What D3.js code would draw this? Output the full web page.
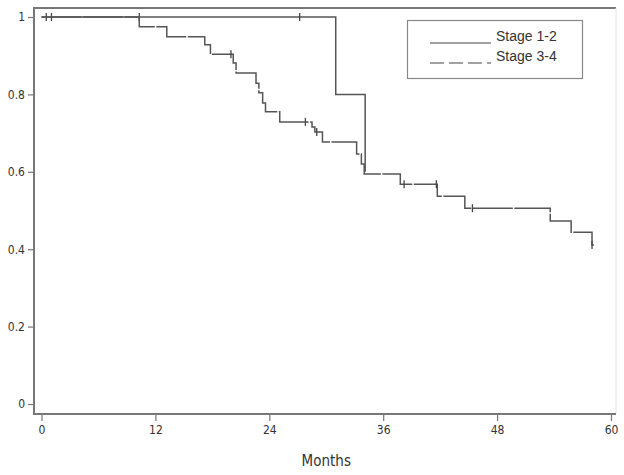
<!DOCTYPE html>
<meta charset="utf-8">
<html>
<head>
    <script src="https://d3js.org/d3.v7.min.js"></script>
    <style>
        body { margin: 0; background: #fff; }
        text { font-family: "Liberation Sans Narrow", "DejaVu Sans Condensed", "Liberation Sans", Arial, sans-serif; fill: #333; }
    </style>
</head>
<body>
    <script>
        // Kaplan-Meier steps: [month, survival after event]
        var stage12 = [[0, 1], [31.0, 0.8], [34.1, 0.6]];
        var stage12End = 34.1;
        var stage12Censor = [0.5, 1.05, 10.3, 27.2];

        var stage34 = [
            [0, 1], [10.3, 0.975], [13.2, 0.949], [17.2, 0.928], [17.8, 0.904],
            [20.2, 0.881], [20.5, 0.855], [22.6, 0.829], [22.9, 0.804], [23.3, 0.778],
            [23.6, 0.755], [25.1, 0.729], [28.5, 0.716], [28.8, 0.703], [29.6, 0.677],
            [33.2, 0.646], [33.7, 0.62], [34.0, 0.594], [37.8, 0.568], [41.7, 0.537],
            [44.6, 0.506], [53.6, 0.473], [55.8, 0.444], [58.0, 0.411]
        ];
        var stage34End = 58.2;
        var stage34Censor = [19.96, 27.8, 29.0, 38.2, 41.6, 45.4, 58.0];

        var xTicks = [0, 12, 24, 36, 48, 60];
        var yTicks = [0, 0.2, 0.4, 0.6, 0.8, 1];
        var legendNames = ["Stage 1-2", "Stage 3-4"];

        const width = 624, height = 475;
        const svg = d3.select("body").append("svg")
            .attr("width", width).attr("height", height);

        const x = d3.scaleLinear().domain([0, 60]).range([41.5, 611]);
        const y = d3.scaleLinear().domain([0, 1]).range([404, 17]);

        const frameLeft = 34, frameRight = 616, frameTop = 8, frameBottom = 414;

        // frame
        svg.append("line").attr("x1", frameLeft).attr("x2", frameRight)
            .attr("y1", frameTop).attr("y2", frameTop)
            .attr("stroke", "#777").attr("stroke-width", 2);
        svg.append("line").attr("x1", frameRight).attr("x2", frameRight)
            .attr("y1", frameTop).attr("y2", frameBottom)
            .attr("stroke", "#e4e4e4").attr("stroke-width", 1);
        svg.append("line").attr("x1", frameLeft).attr("x2", frameLeft)
            .attr("y1", frameTop - 1).attr("y2", frameBottom + 1)
            .attr("stroke", "#777").attr("stroke-width", 2);
        svg.append("line").attr("x1", frameLeft - 1).attr("x2", frameRight)
            .attr("y1", frameBottom).attr("y2", frameBottom)
            .attr("stroke", "#777").attr("stroke-width", 2);

        // axes
        const xAxis = svg.append("g")
            .attr("transform", `translate(0,${frameBottom})`)
            .call(d3.axisBottom(x).tickValues(xTicks).tickSize(7).tickPadding(4).tickFormat(d3.format("d")));
        xAxis.select(".domain").remove();

        const yAxis = svg.append("g")
            .attr("transform", `translate(${frameLeft},0)`)
            .call(d3.axisLeft(y).tickValues(yTicks).tickSize(6).tickPadding(3).tickFormat(d => d === 0 || d === 1 ? d : d.toFixed(1)));
        yAxis.select(".domain").remove();

        svg.selectAll(".tick line").attr("stroke", "#777").attr("stroke-width", 1.2);
        svg.selectAll(".tick text")
            .style("font-family", "'Liberation Sans Narrow', 'DejaVu Sans Condensed', sans-serif")
            .style("font-size", "12px").attr("fill", "#333");

        svg.append("text")
            .attr("x", (x(0) + x(60)) / 2).attr("y", 466)
            .attr("text-anchor", "middle")
            .style("font-size", "15px")
            .text("Months");

        // curves
        const line = d3.line()
            .x(d => x(d[0])).y(d => y(d[1]))
            .curve(d3.curveStepAfter);

        function stepAt(data, t) {
            let s = 1;
            data.forEach(d => { if (d[0] <= t) s = d[1]; });
            return s;
        }

        const series = [
            { data: stage12, end: stage12End, censor: stage12Censor, dash: null },
            { data: stage34, end: stage34End, censor: stage34Censor, dash: "40,1.5" }
        ];

        series.forEach(s => {
            const pts = s.data.concat([[s.end, s.data[s.data.length - 1][1]]]);
            svg.append("path")
                .attr("d", line(pts))
                .attr("fill", "none")
                .attr("stroke", "#555")
                .attr("stroke-width", 1.5)
                .attr("stroke-dasharray", s.dash);

            svg.selectAll(null)
                .data(s.censor)
                .enter()
                .append("line")
                .attr("x1", d => x(d)).attr("x2", d => x(d))
                .attr("y1", d => y(stepAt(s.data, d)) - 4)
                .attr("y2", d => y(stepAt(s.data, d)) + 4)
                .attr("stroke", "#444")
                .attr("stroke-width", 1.3);
        });

        // legend
        const legend = svg.append("g");
        legend.append("rect")
            .attr("x", 407.5).attr("y", 20.5)
            .attr("width", 175).attr("height", 58)
            .attr("fill", "#fff").attr("stroke", "#888").attr("stroke-width", 1.2);

        legendNames.forEach((name, i) => {
            const ly = 43 + i * 20;
            legend.append("line")
                .attr("x1", 430).attr("x2", 491)
                .attr("y1", ly).attr("y2", ly)
                .attr("stroke", "#444").attr("stroke-width", 1.2)
                .attr("stroke-dasharray", i === 1 ? "14,5" : null);
            legend.append("text")
                .attr("x", 496).attr("y", ly - 2)
                .style("font-family", "'Liberation Sans', Arial, sans-serif")
                .style("font-size", "14px")
                .text(name);
        });
    </script>
</body>
</html>
